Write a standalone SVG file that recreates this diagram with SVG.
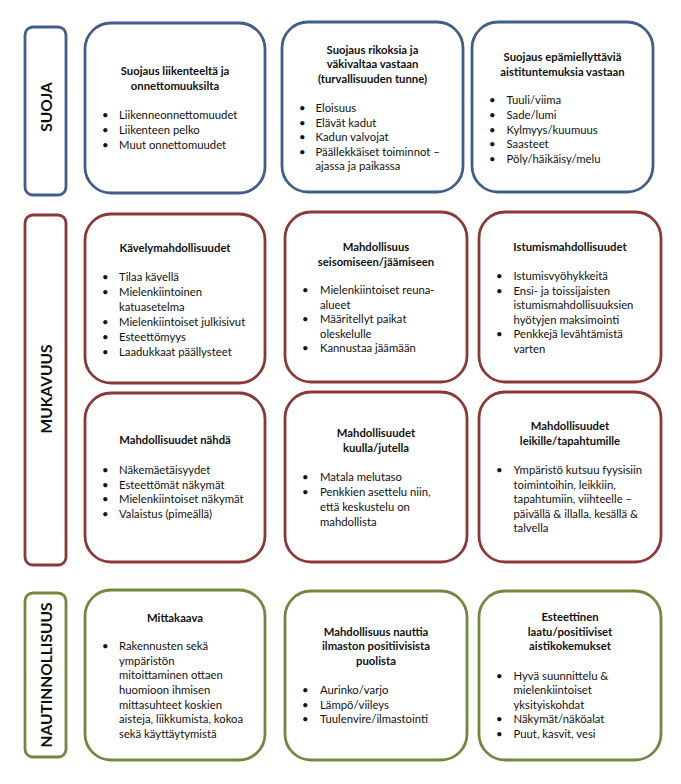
<svg xmlns="http://www.w3.org/2000/svg" width="681" height="784" viewBox="0 0 681 784">
<style>
rect{fill:#fff;stroke-width:2.8}
.blue{stroke:#3F5F8A}
.red{stroke:#8C3836}
.green{stroke:#71893F}
text{font-family:Lato,"Open Sans","Liberation Sans",sans-serif;font-size:11.3px;fill:#111}
.t{font-weight:bold;text-anchor:middle}
.side{font-weight:bold;font-size:15.5px;text-anchor:middle}
</style>
<rect width="681" height="784" fill="#fff" stroke="none"/>
<g id="side-suoja">
<rect class="blue" x="25" y="27" width="41" height="168" rx="8"/>
<text class="side" transform="translate(52 107) rotate(-90)">SUOJA</text>
</g>
<g id="side-mukavuus">
<rect class="red" x="25" y="215" width="41" height="350" rx="8"/>
<text class="side" transform="translate(52 389) rotate(-90)">MUKAVUUS</text>
</g>
<g id="side-nautinnollisuus">
<rect class="green" x="25" y="593" width="41" height="164" rx="8"/>
<text class="side" transform="translate(52 675) rotate(-90)">NAUTINNOLLISUUS</text>
</g>

<g id="suoja-1">
<rect class="blue" x="85" y="23" width="180" height="170" rx="26"/>
<text class="t" x="175" y="74.5">Suojaus liikenteeltä ja</text>
<text class="t" x="175" y="89.5">onnettomuuksilta</text>
<text x="102" y="119">•</text><text x="119" y="119">Liikenneonnettomuudet</text>
<text x="102" y="134">•</text><text x="119" y="134">Liikenteen pelko</text>
<text x="102" y="149">•</text><text x="119" y="149">Muut onnettomuudet</text>
</g>
<g id="suoja-2">
<rect class="blue" x="282" y="22" width="181" height="170" rx="26"/>
<text class="t" x="372.5" y="53.5">Suojaus rikoksia ja</text>
<text class="t" x="372.5" y="68">väkivaltaa vastaan</text>
<text class="t" x="372.5" y="83">(turvallisuuden tunne)</text>
<text x="299" y="112">•</text><text x="315.5" y="112">Eloisuus</text>
<text x="299" y="126.5">•</text><text x="315.5" y="126.5">Elävät kadut</text>
<text x="299" y="141">•</text><text x="315.5" y="141">Kadun valvojat</text>
<text x="299" y="155.5">•</text><text x="315.5" y="155.5">Päällekkäiset toiminnot –</text>
<text x="315.5" y="170">ajassa ja paikassa</text>
</g>
<g id="suoja-3">
<rect class="blue" x="472" y="22" width="181" height="170" rx="26"/>
<text class="t" x="562.5" y="60.5">Suojaus epämiellyttäviä</text>
<text class="t" x="562.5" y="75.5">aistituntemuksia vastaan</text>
<text x="489" y="104">•</text><text x="506.5" y="104">Tuuli/viima</text>
<text x="489" y="119">•</text><text x="506.5" y="119">Sade/lumi</text>
<text x="489" y="133.5">•</text><text x="506.5" y="133.5">Kylmyys/kuumuus</text>
<text x="489" y="148">•</text><text x="506.5" y="148">Saasteet</text>
<text x="489" y="163">•</text><text x="506.5" y="163">Pöly/häikäisy/melu</text>
</g>

<g id="mukavuus-1">
<rect class="red" x="85" y="214" width="180" height="169" rx="26"/>
<text class="t" x="175" y="252">Kävelymahdollisuudet</text>
<text x="102" y="281">•</text><text x="119" y="281">Tilaa kävellä</text>
<text x="102" y="296">•</text><text x="119" y="296">Mielenkiintoinen</text>
<text x="119" y="311">katuasetelma</text>
<text x="102" y="325.5">•</text><text x="119" y="325.5">Mielenkiintoiset julkisivut</text>
<text x="102" y="340.5">•</text><text x="119" y="340.5">Esteettömyys</text>
<text x="102" y="355.5">•</text><text x="119" y="355.5">Laadukkaat päällysteet</text>
</g>
<g id="mukavuus-2">
<rect class="red" x="285" y="212" width="182" height="170" rx="26"/>
<text class="t" x="376" y="250.5">Mahdollisuus</text>
<text class="t" x="376" y="265.5">seisomiseen/jäämiseen</text>
<text x="302" y="294">•</text><text x="320" y="294">Mielenkiintoiset reuna-</text>
<text x="320" y="309">alueet</text>
<text x="302" y="323">•</text><text x="320" y="323">Määritellyt paikat</text>
<text x="320" y="338">oleskelulle</text>
<text x="302" y="352">•</text><text x="320" y="352">Kannustaa jäämään</text>
</g>
<g id="mukavuus-3">
<rect class="red" x="479" y="212" width="182" height="170" rx="26"/>
<text class="t" x="570" y="250.5">Istumismahdollisuudet</text>
<text x="496" y="280">•</text><text x="513.5" y="280">Istumisvyöhykkeitä</text>
<text x="496" y="294.5">•</text><text x="513.5" y="294.5">Ensi- ja toissijaisten</text>
<text x="513.5" y="309">istumismahdollisuuksien</text>
<text x="513.5" y="323.5">hyötyjen maksimointi</text>
<text x="496" y="338">•</text><text x="513.5" y="338">Penkkejä levähtämistä</text>
<text x="513.5" y="352.5">varten</text>
</g>
<g id="mukavuus-4">
<rect class="red" x="85" y="393" width="180" height="169" rx="26"/>
<text class="t" x="175" y="444">Mahdollisuudet nähdä</text>
<text x="102" y="474">•</text><text x="119" y="474">Näkemäetäisyydet</text>
<text x="102" y="488.5">•</text><text x="119" y="488.5">Esteettömät näkymät</text>
<text x="102" y="503">•</text><text x="119" y="503">Mielenkiintoiset näkymät</text>
<text x="102" y="518">•</text><text x="119" y="518">Valaistus (pimeällä)</text>
</g>
<g id="mukavuus-5">
<rect class="red" x="285" y="392" width="182" height="170" rx="26"/>
<text class="t" x="376" y="437">Mahdollisuudet</text>
<text class="t" x="376" y="452">kuulla/jutella</text>
<text x="302" y="481">•</text><text x="320" y="481">Matala melutaso</text>
<text x="302" y="496">•</text><text x="320" y="496">Penkkien asettelu niin,</text>
<text x="320" y="510.5">että keskustelu on</text>
<text x="320" y="525.5">mahdollista</text>
</g>
<g id="mukavuus-6">
<rect class="red" x="479" y="392" width="182" height="170" rx="26"/>
<text class="t" x="570" y="430">Mahdollisuudet</text>
<text class="t" x="570" y="444.5">leikille/tapahtumille</text>
<text x="496" y="474">•</text><text x="513.5" y="474">Ympäristö kutsuu fyysisiin</text>
<text x="513.5" y="488.5">toimintoihin, leikkiin,</text>
<text x="513.5" y="503">tapahtumiin, viihteelle –</text>
<text x="513.5" y="517.5">päivällä &amp; illalla, kesällä &amp;</text>
<text x="513.5" y="532">talvella</text>
</g>

<g id="nautinto-1">
<rect class="green" x="85" y="590" width="180" height="170" rx="26"/>
<text class="t" x="175" y="621.5">Mittakaava</text>
<text x="102" y="650">•</text><text x="119" y="650">Rakennusten sekä</text>
<text x="119" y="664.5">ympäristön</text>
<text x="119" y="679">mitoittaminen ottaen</text>
<text x="119" y="694">huomioon ihmisen</text>
<text x="119" y="708.5">mittasuhteet koskien</text>
<text x="119" y="723">aisteja, liikkumista, kokoa</text>
<text x="119" y="738">sekä käyttäytymistä</text>
</g>
<g id="nautinto-2">
<rect class="green" x="285" y="591" width="182" height="169" rx="26"/>
<text class="t" x="376" y="635.5">Mahdollisuus nauttia</text>
<text class="t" x="376" y="650">ilmaston positiivisista</text>
<text class="t" x="376" y="665">puolista</text>
<text x="302" y="694">•</text><text x="320" y="694">Aurinko/varjo</text>
<text x="302" y="709">•</text><text x="320" y="709">Lämpö/viileys</text>
<text x="302" y="723">•</text><text x="320" y="723">Tuulenvire/ilmastointi</text>
</g>
<g id="nautinto-3">
<rect class="green" x="479" y="591" width="182" height="169" rx="26"/>
<text class="t" x="570" y="620.5">Esteettinen</text>
<text class="t" x="570" y="635.5">laatu/positiiviset</text>
<text class="t" x="570" y="650">aistikokemukset</text>
<text x="496" y="679.5">•</text><text x="513.5" y="679.5">Hyvä suunnittelu &amp;</text>
<text x="513.5" y="694">mielenkiintoiset</text>
<text x="513.5" y="709">yksityiskohdat</text>
<text x="496" y="723">•</text><text x="513.5" y="723">Näkymät/näköalat</text>
<text x="496" y="738">•</text><text x="513.5" y="738">Puut, kasvit, vesi</text>
</g>
<g id="connectors"/>
</svg>
